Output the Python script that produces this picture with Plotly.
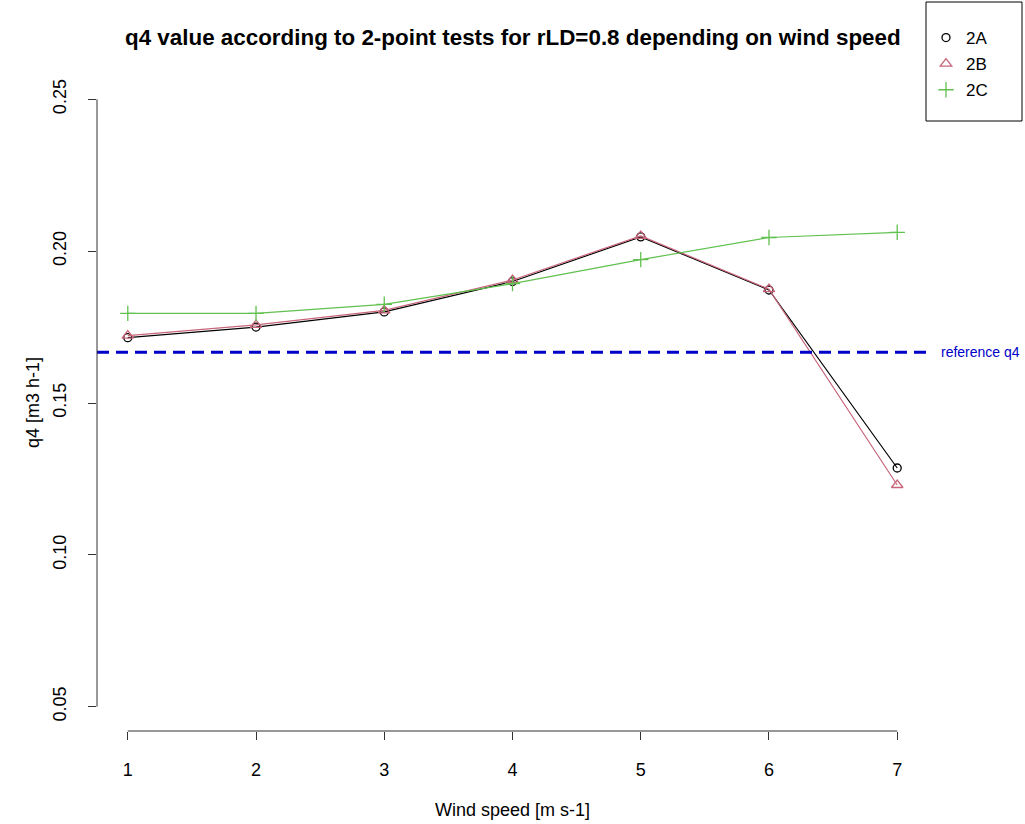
import plotly.graph_objects as go

# Wind speed classes and q4 estimates from the 2-point tests
wind_speed = [1, 2, 3, 4, 5, 6, 7]
q4_2A = [0.1715, 0.1750, 0.1800, 0.1900, 0.2047, 0.1872, 0.1286]
q4_2B = [0.1722, 0.1757, 0.1805, 0.1905, 0.2050, 0.1875, 0.1230]
q4_2C = [0.1795, 0.1795, 0.1825, 0.1893, 0.1972, 0.2045, 0.2062]
reference_q4 = 0.1667

series_names = ["2A", "2B", "2C"]
series_values = [q4_2A, q4_2B, q4_2C]
series_colors = ["#000000", "#C8657A", "#61C04F"]
series_symbols = ["circle-open", "triangle-up-open", "cross-thin-open"]
series_sizes = [8, 10, 11]

x_ticks = [1, 2, 3, 4, 5, 6, 7]
y_ticks = [0.05, 0.10, 0.15, 0.20, 0.25]
y_tick_labels = ["0.05", "0.10", "0.15", "0.20", "0.25"]

FONT = "Liberation Sans, Arial, sans-serif"
W, H = 1025, 824
ML, MR, MT, MB = 97, 97, 75, 93
PW, PH = W - ML - MR, H - MT - MB


def px_to_paper_x(px):
    return (px - ML) / PW


def px_to_paper_y(py):
    return (H - MB - py) / PH


fig = go.Figure()

for name, vals, col, sym, sz in zip(series_names, series_values, series_colors,
                                    series_symbols, series_sizes):
    fig.add_trace(go.Scatter(
        x=wind_speed, y=vals, mode="lines+markers", name=name,
        line=dict(color=col, width=1.2),
        marker=dict(symbol=sym, size=sz, color=col, line=dict(color=col, width=1.3)),
        showlegend=False, hoverinfo="x+y+name",
    ))
    # symbol-only legend entry
    fig.add_trace(go.Scatter(
        x=[None], y=[None], mode="markers", name=name, legendgroup=name,
        marker=dict(symbol=sym, size=sz, color=col, line=dict(color=col, width=1.3)),
        showlegend=True,
    ))

# reference level
fig.add_shape(type="line", xref="paper", yref="y", x0=0, x1=1,
              y0=reference_q4, y1=reference_q4,
              line=dict(color="#0000C8", width=3, dash="12px,7px"))
fig.add_annotation(xref="paper", yref="y", x=1, y=reference_q4, xshift=11,
                   xanchor="left", yanchor="middle", showarrow=False,
                   text="reference q4", font=dict(family=FONT, size=14, color="#0000C8"))

# axis lines spanning only the tick range
fig.add_shape(type="line", xref="x", yref="paper", x0=min(x_ticks), x1=max(x_ticks),
              y0=0, y1=0, line=dict(color="#333333", width=1))
fig.add_shape(type="line", xref="paper", yref="y", x0=0, x1=0,
              y0=min(y_ticks), y1=max(y_ticks), line=dict(color="#333333", width=1))

# legend frame
fig.add_shape(type="rect", xref="paper", yref="paper",
              x0=px_to_paper_x(926), x1=px_to_paper_x(1022),
              y0=px_to_paper_y(121), y1=px_to_paper_y(2),
              line=dict(color="#000000", width=1), fillcolor="rgba(0,0,0,0)")

# title and axis titles
fig.add_annotation(xref="paper", yref="paper", x=0.5, y=1, yshift=38,
                   xanchor="center", yanchor="middle", showarrow=False,
                   text="<b>q4 value according to 2-point tests for rLD=0.8 depending on wind speed</b>",
                   font=dict(family=FONT, size=22.4, color="#000000"))
fig.add_annotation(xref="paper", yref="paper", x=0.5, y=0, yshift=-79,
                   xanchor="center", yanchor="middle", showarrow=False,
                   text="Wind speed [m s-1]", font=dict(family=FONT, size=18, color="#000000"))
fig.add_annotation(xref="paper", yref="paper", x=0, y=0.5, xshift=-64,
                   xanchor="center", yanchor="middle", showarrow=False, textangle=-90,
                   text="q4 [m3 h-1]", font=dict(family=FONT, size=18, color="#000000"))

fig.update_xaxes(range=[0.76, 7.24], tickvals=x_ticks, ticks="outside", ticklen=8,
                 tickcolor="#333333", showgrid=False, zeroline=False, showline=False,
                 ticklabelstandoff=14,
                 tickfont=dict(family=FONT, size=18, color="#000000"))
fig.update_yaxes(range=[0.042, 0.258], tickvals=y_ticks, ticktext=y_tick_labels,
                 ticks="outside", ticklen=8, tickcolor="#333333", tickangle=-90,
                 showgrid=False, zeroline=False, showline=False, ticklabelstandoff=15,
                 tickfont=dict(family=FONT, size=18, color="#000000"))

fig.update_layout(
    width=W, height=H,
    margin=dict(l=ML, r=MR, t=MT, b=MB, autoexpand=False),
    paper_bgcolor="white", plot_bgcolor="white",
    font=dict(family=FONT, color="#000000"),
    legend=dict(xref="container", yref="container", x=926 / W, y=1 - 20 / H,
                xanchor="left", yanchor="top", borderwidth=0,
                bgcolor="rgba(0,0,0,0)", font=dict(family=FONT, size=17, color="#000000"),
                itemwidth=30, tracegroupgap=1, traceorder="grouped"),
)

fig.write_html("out.html")
